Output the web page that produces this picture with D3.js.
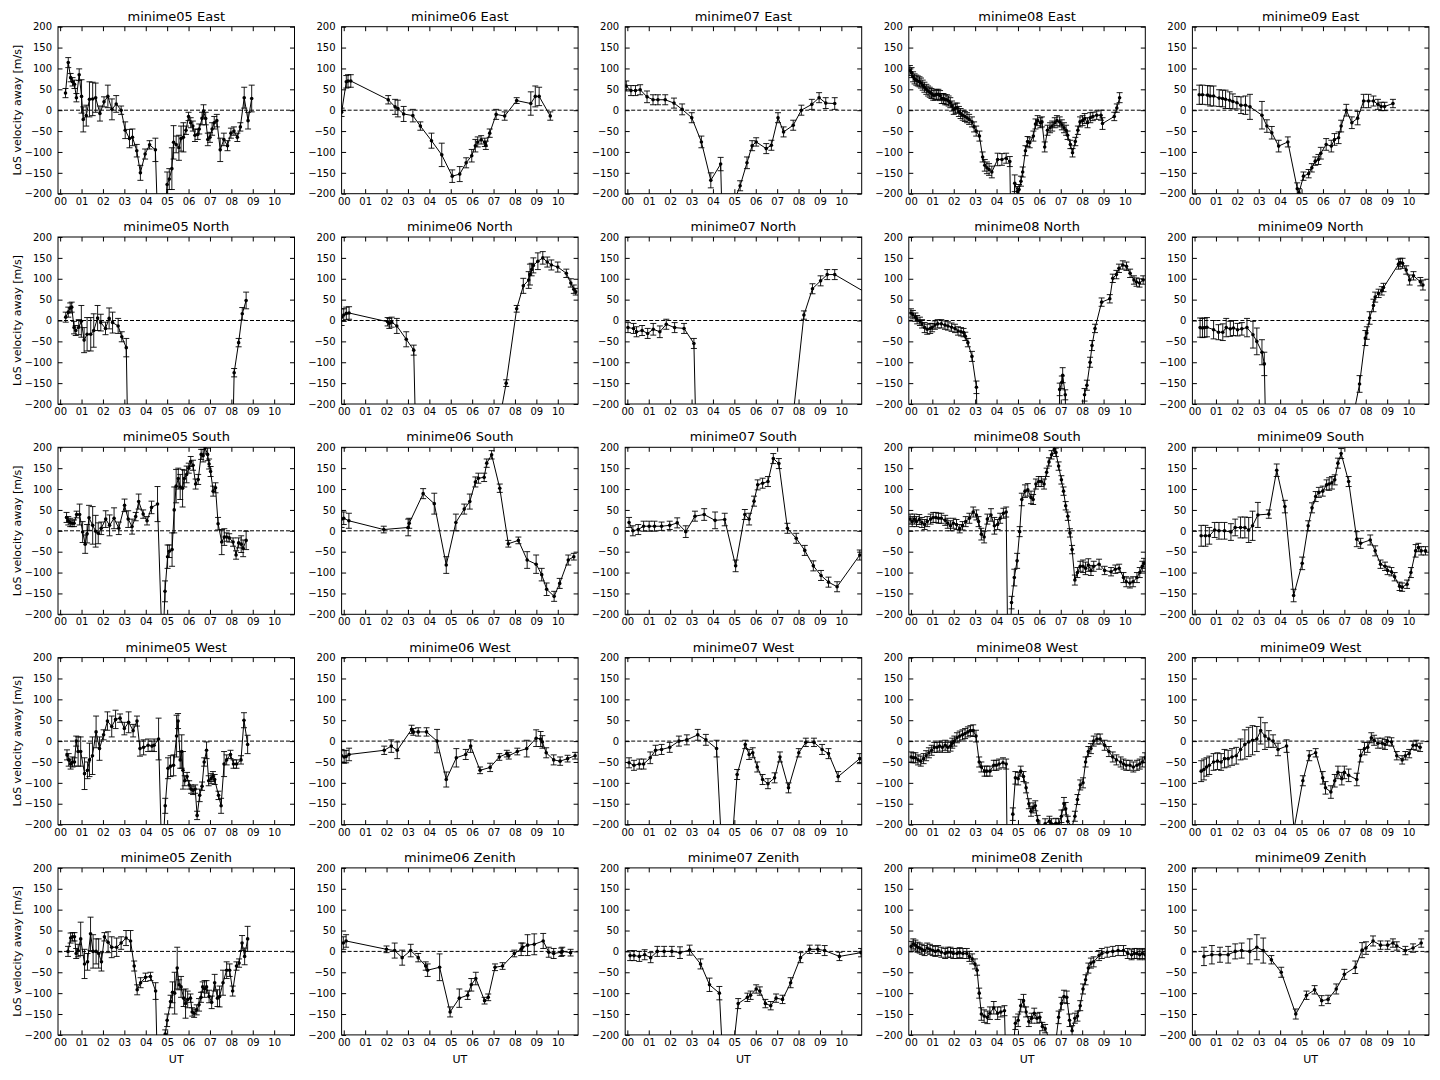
<!DOCTYPE html>
<html><head><meta charset="utf-8">
<script src="https://cdn.jsdelivr.net/npm/d3@7"></script>
<style>
body{margin:0;background:#fff}
svg{display:block}
text{font-family:"DejaVu Sans",sans-serif;fill:#000}
</style>
</head><body>
<svg id="chart" width="1440" height="1080"></svg>
<script>
// ---------- categories / ticks ----------
const sites = ["minime05","minime06","minime07","minime08","minime09"];
const directions = ["East","North","South","West","Zenith"];
const hourTicks = [0,1,2,3,4,5,6,7,8,9,10];
const hourTickLabels = ["00","01","02","03","04","05","06","07","08","09","10"];
const velocityTicks = [-200,-150,-100,-50,0,50,100,150,200];
const hourDomain = [-0.1, 10.95];
const velocityDomain = [-200, 200];
const yAxisLabel = "LoS velocity away [m/s]";
const xAxisLabel = "UT";

// ---------- series: [UT hour, velocity m/s, error m/s] ----------
const minime05_East = [[0.25,41,11],[0.38,114,12],[0.49,78,10],[0.58,68,10],[0.67,62,10],[0.76,30,10],[0.89,85,14],[1.0,33,40],[1.08,-22,30],[1.22,-13,25],[1.37,26,42],[1.52,27,40],[1.66,30,35],[1.86,-8,18],[2.05,20,12],[2.23,33,27],[2.42,2,25],[2.62,15,20],[2.85,0,10],[3.04,-48,20],[3.24,-68,22],[3.38,-65,20],[3.58,-97,15],[3.75,-150,18],[3.97,-105,12],[4.18,-83,10],[4.45,-95,28],[4.65,-420,0],[5.0,-178,30],[5.1,-165,25],[5.22,-140,50],[5.3,-77,40],[5.42,-82,20],[5.55,-90,30],[5.65,-68,30],[5.76,-65,35],[5.88,-48,10],[6.0,-15,10],[6.1,-30,12],[6.2,-38,12],[6.3,-60,15],[6.43,-58,12],[6.5,-45,12],[6.63,-20,15],[6.7,-2,15],[6.8,-20,15],[6.9,-70,15],[7.0,-65,12],[7.1,-45,15],[7.2,-30,15],[7.32,-25,15],[7.48,-95,28],[7.65,-70,15],[7.82,-85,12],[7.98,-55,12],[8.12,-50,10],[8.28,-65,10],[8.42,-40,10],[8.6,30,25],[8.78,-25,20],[8.95,28,32]];
const minime06_East = [[-0.1,-5,10],[0.12,68,15],[0.2,70,15],[0.33,70,15],[2.08,25,10],[2.4,8,18],[2.53,4,20],[2.8,-9,18],[3.23,-13,15],[3.58,-38,10],[4.1,-73,18],[4.58,-107,28],[5.07,-158,15],[5.42,-153,18],[5.72,-126,12],[5.98,-109,15],[6.15,-85,15],[6.26,-76,12],[6.42,-71,10],[6.59,-77,10],[6.64,-84,10],[6.82,-55,10],[7.12,-10,12],[7.52,-14,10],[8.08,23,7],[8.74,16,28],[8.95,33,25],[9.13,33,22],[9.65,-14,10]];
const minime07_East = [[-0.05,58,12],[0.17,47,12],[0.38,47,12],[0.6,49,12],[0.92,32,14],[1.2,25,12],[1.43,25,12],[1.77,25,12],[2.18,17,12],[2.56,2,13],[3.01,-18,12],[3.46,-76,14],[3.9,-168,18],[4.36,-129,16],[4.55,-500,0],[5.05,-210,0],[5.27,-181,12],[5.59,-126,14],[5.83,-85,12],[6.02,-76,10],[6.49,-92,12],[6.73,-84,12],[7.04,-18,12],[7.3,-52,12],[7.75,-36,12],[8.13,0,12],[8.62,14,12],[8.96,30,12],[9.27,17,13],[9.69,16,14]];
const minime08_East = [[-0.05,95,12],[0.03,90,12],[0.1,80,12],[0.17,75,12],[0.25,72,12],[0.32,70,12],[0.4,68,12],[0.47,65,12],[0.55,60,12],[0.63,55,12],[0.72,50,12],[0.8,46,12],[0.88,43,12],[0.96,40,12],[1.04,36,12],[1.12,36,12],[1.2,38,12],[1.28,38,12],[1.36,35,12],[1.44,28,12],[1.52,28,12],[1.6,25,12],[1.68,25,12],[1.76,22,12],[1.84,18,12],[1.92,10,12],[2.0,2,12],[2.08,5,12],[2.16,5,12],[2.24,-3,12],[2.32,-8,12],[2.42,-12,12],[2.52,-15,12],[2.62,-18,12],[2.72,-22,12],[2.85,-28,12],[2.95,-40,12],[3.05,-50,12],[3.2,-62,12],[3.35,-112,12],[3.45,-132,14],[3.55,-138,14],[3.65,-142,14],[3.78,-148,14],[4.05,-118,15],[4.25,-118,14],[4.45,-115,12],[4.62,-123,12],[4.7,-400,0],[4.85,-175,20],[4.98,-195,12],[5.05,-190,12],[5.14,-170,12],[5.22,-148,12],[5.35,-97,12],[5.45,-75,12],[5.55,-78,12],[5.72,-62,12],[5.82,-33,12],[5.92,-25,12],[6.05,-30,12],[6.12,-28,12],[6.25,-88,12],[6.38,-48,12],[6.5,-42,12],[6.6,-38,12],[6.72,-30,12],[6.82,-25,12],[6.95,-28,12],[7.05,-35,12],[7.15,-42,12],[7.25,-48,12],[7.32,-60,10],[7.45,-82,10],[7.55,-102,10],[7.68,-75,10],[7.8,-48,10],[7.9,-28,12],[8.02,-25,12],[8.12,-20,12],[8.25,-30,12],[8.38,-18,12],[8.5,-15,10],[8.68,-12,10],[8.88,-12,12],[8.95,-32,14],[9.5,-15,10],[9.62,5,10],[9.75,30,12]];
const minime09_East = [[0.22,37,23],[0.37,37,23],[0.61,36,23],[0.73,34,24],[0.89,34,24],[1.15,29,20],[1.31,28,20],[1.45,26,22],[1.64,24,20],[1.79,21,18],[1.98,18,15],[2.17,12,20],[2.38,12,22],[2.59,8,30],[3.15,-12,33],[3.38,-38,15],[3.61,-54,15],[3.93,-86,14],[4.36,-76,12],[4.8,-188,14],[4.88,-198,10],[5.09,-158,10],[5.33,-152,10],[5.48,-138,10],[5.64,-122,10],[5.79,-118,12],[5.9,-103,14],[6.15,-82,14],[6.39,-86,14],[6.54,-70,14],[6.73,-66,14],[6.85,-38,14],[7.09,0,14],[7.35,-30,14],[7.62,-19,16],[7.9,22,16],[8.13,22,16],[8.36,22,12],[8.57,14,12],[8.72,9,10],[8.88,9,10],[9.27,16,10]];

const minime05_North = [[0.26,8,12],[0.38,20,12],[0.47,30,12],[0.54,32,12],[0.65,-17,15],[0.73,-24,12],[0.87,-16,18],[0.99,-2,38],[1.12,-47,30],[1.26,-33,40],[1.43,-33,40],[1.57,-24,40],[1.75,6,30],[1.9,-5,20],[2.12,-19,15],[2.29,5,25],[2.45,-5,25],[2.71,-13,18],[2.88,-39,12],[3.09,-65,22],[3.3,-700,0],[7.9,-700,0],[8.13,-125,10],[8.34,-53,10],[8.51,16,15],[8.69,48,20]];
const minime06_North = [[-0.1,8,20],[0.0,13,15],[0.12,17,15],[0.25,18,15],[2.05,-3,10],[2.13,-7,12],[2.24,-4,12],[2.48,-13,18],[2.92,-45,18],[3.27,-71,12],[3.55,-700,0],[7.2,-260,0],[7.59,-150,8],[8.08,28,8],[8.39,83,18],[8.64,97,20],[8.7,110,25],[8.78,122,15],[8.86,132,18],[9.07,142,20],[9.3,150,15],[9.51,140,12],[9.7,133,12],[10.0,128,12],[10.4,113,10],[10.61,90,10],[10.75,75,10],[10.84,69,8]];
const minime07_North = [[0.03,-17,12],[0.29,-19,12],[0.43,-27,12],[0.69,-24,12],[0.95,-31,12],[1.21,-21,14],[1.52,-27,14],[1.82,-9,12],[2.21,-17,12],[2.65,-19,12],[3.11,-55,12],[3.4,-700,0],[7.7,-250,0],[8.25,13,10],[8.65,76,12],[9.03,95,12],[9.34,110,12],[9.69,110,12],[11.2,65,0]];
const minime08_North = [[0.0,18,10],[0.09,14,10],[0.21,8,10],[0.29,2,10],[0.42,-2,10],[0.52,-8,10],[0.64,-17,12],[0.76,-21,12],[0.9,-19,12],[0.99,-17,10],[1.12,-11,10],[1.25,-8,10],[1.42,-8,10],[1.59,-11,10],[1.73,-13,10],[1.9,-16,10],[2.06,-19,10],[2.2,-25,10],[2.34,-27,10],[2.46,-29,10],[2.54,-38,10],[2.66,-53,10],[2.85,-86,12],[3.06,-160,15],[3.2,-600,0],[6.8,-600,0],[6.95,-165,15],[7.05,-148,15],[7.09,-131,18],[7.21,-178,12],[7.35,-600,0],[7.95,-600,0],[8.11,-178,15],[8.22,-155,12],[8.37,-100,12],[8.46,-60,12],[8.6,-19,10],[8.91,44,10],[9.29,52,10],[9.43,101,10],[9.6,110,10],[9.72,125,10],[9.9,133,10],[10.07,130,10],[10.24,113,10],[10.42,97,10],[10.54,92,10],[10.68,90,10],[10.85,97,10]];
const minime09_North = [[0.26,-17,23],[0.37,-18,23],[0.47,-17,23],[0.58,-16,23],[0.89,-22,22],[1.12,-28,18],[1.32,-28,20],[1.48,-17,22],[1.67,-20,18],[1.82,-18,18],[2.01,-22,15],[2.21,-20,15],[2.45,-17,22],[2.73,-34,32],[2.91,-50,32],[3.15,-76,30],[3.26,-104,28],[3.5,-700,0],[7.3,-260,0],[7.71,-152,20],[7.98,-42,18],[8.05,-30,15],[8.18,6,15],[8.36,36,15],[8.44,56,12],[8.6,65,10],[8.75,71,10],[8.83,79,10],[9.53,135,12],[9.61,139,10],[9.72,137,12],[9.89,121,10],[10.05,97,12],[10.23,107,10],[10.55,93,10],[10.67,85,12]];

const minime05_South = [[0.3,32,12],[0.38,24,10],[0.47,20,10],[0.56,18,8],[0.65,18,8],[0.77,39,8],[0.91,39,25],[1.05,-3,25],[1.17,-32,22],[1.26,-7,22],[1.35,31,30],[1.52,13,45],[1.66,-1,38],[1.78,-6,25],[1.92,6,15],[2.13,28,20],[2.31,13,25],[2.52,30,25],[2.74,6,15],[3.01,61,15],[3.18,28,20],[3.36,10,18],[3.53,34,10],[3.67,70,18],[3.88,40,10],[4.06,24,10],[4.27,56,15],[4.55,64,42],[4.78,-300,0],[4.9,-145,25],[5.02,-62,28],[5.1,-49,15],[5.23,-45,40],[5.33,50,55],[5.42,107,40],[5.52,125,25],[5.61,105,30],[5.72,102,45],[5.8,125,20],[5.91,135,20],[6.01,150,12],[6.1,166,12],[6.21,157,12],[6.33,112,12],[6.45,123,12],[6.59,183,12],[6.68,180,15],[6.77,199,15],[6.89,183,15],[6.96,160,12],[7.03,142,12],[7.15,95,12],[7.26,103,12],[7.38,17,15],[7.55,-27,30],[7.67,-15,20],[7.78,-15,10],[7.9,-17,10],[8.08,-27,10],[8.22,-58,10],[8.34,-29,12],[8.46,-32,20],[8.55,-42,20],[8.69,-23,22]];
const minime06_South = [[-0.1,28,20],[0.0,30,15],[0.24,24,18],[1.87,3,8],[3.01,8,20],[3.06,18,12],[3.71,89,12],[4.23,65,25],[4.79,-82,20],[5.24,20,20],[5.63,52,12],[5.89,70,18],[6.15,117,12],[6.29,126,12],[6.56,128,10],[6.68,162,10],[6.91,182,10],[7.29,102,10],[7.69,-31,8],[8.16,-23,8],[8.57,-70,20],[8.99,-80,22],[9.25,-105,15],[9.48,-140,15],[9.83,-157,12],[10.09,-126,12],[10.49,-70,12],[10.75,-62,8]];
const minime07_South = [[0.08,20,12],[0.26,0,12],[0.51,3,12],[0.76,11,12],[1.02,11,12],[1.27,11,12],[1.6,11,10],[1.98,13,10],[2.33,19,12],[2.73,-2,14],[3.16,35,12],[3.59,39,14],[4.1,25,20],[4.55,27,15],[5.06,-84,14],[5.49,39,12],[5.69,28,14],[5.92,71,12],[6.09,110,12],[6.32,114,12],[6.57,118,12],[6.82,173,12],[7.08,161,12],[7.48,6,12],[7.89,-18,12],[8.29,-47,12],[8.69,-84,12],[9.05,-107,12],[9.4,-123,12],[9.8,-134,12],[10.86,-58,12]];
const minime08_South = [[-0.04,28,12],[0.06,22,12],[0.16,28,12],[0.26,22,12],[0.39,27,12],[0.51,20,12],[0.64,15,12],[0.76,22,12],[0.92,28,12],[1.04,32,12],[1.17,32,12],[1.29,30,12],[1.42,30,12],[1.6,25,12],[1.72,18,12],[1.85,12,12],[1.98,18,12],[2.13,15,12],[2.28,5,10],[2.41,12,10],[2.56,22,12],[2.73,30,12],[2.91,45,12],[3.06,38,12],[3.16,22,12],[3.29,-8,14],[3.42,-15,14],[3.57,28,12],[3.74,38,15],[3.9,12,20],[4.05,15,12],[4.17,30,12],[4.32,42,12],[4.45,45,12],[4.55,-400,0],[4.7,-172,15],[4.83,-112,20],[4.96,-72,18],[5.08,-2,12],[5.18,75,15],[5.33,95,15],[5.46,98,15],[5.61,80,15],[5.71,75,12],[5.84,112,12],[5.97,118,12],[6.09,118,12],[6.22,112,12],[6.34,140,10],[6.45,165,10],[6.57,182,10],[6.7,195,10],[6.77,188,10],[6.9,155,10],[7.03,122,10],[7.13,95,10],[7.23,60,10],[7.33,35,10],[7.43,-5,10],[7.53,-45,10],[7.66,-118,12],[7.78,-100,12],[7.91,-85,12],[8.04,-85,15],[8.16,-90,15],[8.29,-82,15],[8.41,-95,12],[8.54,-85,12],[8.79,-80,12],[9.05,-95,10],[9.35,-98,10],[9.55,-92,10],[9.73,-90,10],[9.93,-112,12],[10.06,-122,12],[10.23,-125,12],[10.38,-122,12],[10.56,-112,12],[10.69,-100,12],[10.81,-85,12],[10.89,-78,12]];
const minime09_South = [[0.31,-12,25],[0.51,-12,25],[0.69,-12,20],[0.94,2,18],[1.14,0,20],[1.4,0,20],[1.7,-3,20],[1.9,8,20],[2.15,8,25],[2.35,8,25],[2.53,2,30],[2.71,12,35],[2.96,38,30],[3.47,40,10],[3.84,145,15],[4.22,58,15],[4.63,-155,15],[5.03,-78,15],[5.31,12,12],[5.49,55,12],[5.66,82,12],[5.81,92,12],[5.99,95,12],[6.17,110,12],[6.29,112,15],[6.42,115,15],[6.55,122,12],[6.7,162,12],[6.85,185,12],[7.2,118,12],[7.58,-20,18],[7.76,-30,12],[8.21,-22,12],[8.44,-48,12],[8.69,-80,10],[8.9,-85,10],[9.02,-95,10],[9.2,-98,10],[9.35,-110,10],[9.58,-133,10],[9.7,-135,10],[9.93,-128,10],[10.11,-100,12],[10.33,-48,15],[10.46,-40,10],[10.59,-48,10],[10.79,-48,10]];

const minime05_West = [[0.32,-33,12],[0.4,-45,15],[0.49,-55,12],[0.58,-50,12],[0.67,-50,10],[0.75,0,12],[0.84,-25,35],[0.96,-25,35],[1.14,-78,38],[1.28,-70,20],[1.37,-45,40],[1.51,-35,45],[1.68,22,38],[1.84,-18,28],[2.03,15,12],[2.21,48,22],[2.41,35,25],[2.59,52,22],[2.8,55,10],[3.0,30,15],[3.2,45,25],[3.41,25,15],[3.59,48,12],[3.73,-18,18],[3.9,-15,18],[4.11,-10,15],[4.29,-12,12],[4.39,-10,15],[4.6,5,50],[4.76,-300,0],[4.91,-155,18],[5.04,-65,25],[5.16,-60,25],[5.3,-58,25],[5.44,12,50],[5.51,48,18],[5.61,-45,20],[5.68,-25,40],[5.74,-70,45],[5.82,-95,12],[5.93,-85,10],[6.03,-105,10],[6.12,-115,10],[6.21,-118,10],[6.31,-115,10],[6.4,-178,10],[6.52,-130,15],[6.63,-108,10],[6.73,-50,10],[6.84,-22,20],[6.94,-95,12],[7.05,-90,12],[7.14,-85,12],[7.22,-92,12],[7.4,-130,10],[7.52,-155,18],[7.66,-55,30],[7.78,-45,12],[7.96,-32,10],[8.1,-55,10],[8.24,-55,10],[8.45,-45,10],[8.59,50,18],[8.76,-8,22]];
const minime06_West = [[-0.1,-35,15],[0.02,-38,15],[0.11,-37,15],[0.25,-32,15],[1.89,-22,10],[2.22,-12,15],[2.5,-22,20],[3.17,28,10],[3.25,22,8],[3.48,22,10],[3.87,22,10],[4.36,0,28],[4.79,-92,18],[5.26,-40,22],[5.7,-32,12],[5.93,-12,15],[6.37,-70,8],[6.84,-63,10],[7.27,-38,8],[7.62,-30,8],[7.71,-35,8],[8.11,-25,8],[8.55,-18,20],[8.99,7,20],[9.2,5,18],[9.28,-2,15],[9.46,-28,12],[9.81,-45,12],[10.11,-48,10],[10.46,-42,8],[10.81,-35,8]];
const minime07_West = [[0.08,-52,12],[0.31,-58,12],[0.56,-55,12],[0.76,-55,12],[1.07,-40,14],[1.32,-22,12],[1.6,-20,12],[1.98,-15,12],[2.41,0,12],[2.78,3,12],[3.29,15,13],[3.67,3,13],[4.17,-18,20],[4.6,-450,0],[5.13,-80,12],[5.51,-8,10],[5.69,-32,12],[5.86,-28,12],[6.07,-62,12],[6.32,-92,12],[6.57,-102,12],[6.88,-88,12],[7.13,-38,12],[7.53,-112,12],[8.01,-28,10],[8.34,-3,10],[8.72,-3,10],[9.1,-20,12],[9.4,-30,12],[9.85,-85,12],[10.86,-42,12]];
const minime08_West = [[0.01,-38,12],[0.11,-40,12],[0.21,-40,12],[0.33,-45,12],[0.46,-48,12],[0.59,-42,12],[0.71,-35,12],[0.84,-28,12],[0.97,-22,12],[1.09,-15,12],[1.22,-15,12],[1.34,-12,12],[1.47,-15,12],[1.6,-10,12],[1.72,-15,12],[1.85,-12,12],[1.93,-5,12],[2.03,0,12],[2.15,8,12],[2.28,12,12],[2.41,15,12],[2.53,18,12],[2.66,22,12],[2.78,25,12],[2.91,25,14],[3.04,12,14],[3.19,-50,12],[3.29,-62,12],[3.44,-72,12],[3.54,-72,12],[3.69,-72,12],[3.87,-58,12],[3.99,-58,12],[4.12,-55,12],[4.3,-52,12],[4.45,-55,12],[4.55,-500,0],[4.76,-175,15],[4.88,-88,15],[5.01,-90,15],[5.13,-72,12],[5.26,-85,12],[5.38,-112,12],[5.51,-150,12],[5.61,-168,12],[5.71,-160,12],[5.81,-155,12],[5.92,-190,12],[6.02,-205,0],[6.27,-198,12],[6.47,-192,12],[6.57,-198,12],[6.77,-197,12],[6.9,-198,12],[7.03,-180,15],[7.15,-150,15],[7.23,-162,15],[7.33,-192,12],[7.53,-205,0],[7.66,-180,12],[7.78,-140,12],[7.91,-105,12],[8.04,-100,12],[8.16,-50,12],[8.29,-25,12],[8.41,-18,12],[8.54,0,12],[8.69,5,12],[8.84,5,12],[9.05,-10,12],[9.25,-25,12],[9.43,-38,12],[9.6,-45,12],[9.8,-50,12],[9.93,-55,12],[10.06,-58,12],[10.23,-58,12],[10.39,-62,12],[10.56,-58,12],[10.69,-55,12],[10.81,-50,12],[10.94,-40,12]];
const minime09_West = [[0.31,-72,25],[0.44,-68,25],[0.56,-62,22],[0.69,-58,22],[0.89,-50,20],[1.07,-48,20],[1.24,-50,20],[1.4,-42,22],[1.57,-42,20],[1.75,-38,20],[1.95,-35,20],[2.15,-20,25],[2.35,-8,35],[2.53,-2,35],[2.71,2,35],[2.91,5,30],[3.09,25,32],[3.29,12,32],[3.47,5,20],[3.67,0,15],[3.9,-20,15],[4.3,-12,15],[4.65,-210,0],[5.06,-95,12],[5.36,-35,12],[5.66,-28,10],[5.99,-88,15],[6.12,-112,15],[6.37,-122,15],[6.55,-95,15],[6.7,-75,15],[6.88,-90,15],[7.0,-75,15],[7.2,-82,15],[7.58,-92,15],[7.76,-35,15],[7.94,-18,15],[8.09,-15,12],[8.26,8,12],[8.39,2,12],[8.57,-5,12],[8.77,-5,12],[8.9,-8,12],[9.02,0,10],[9.2,-2,10],[9.45,-35,10],[9.7,-45,10],[9.85,-35,10],[10.03,-30,10],[10.21,-10,10],[10.36,-10,12],[10.54,-15,10]];

const minime05_Zenith = [[0.37,0,12],[0.49,32,12],[0.58,35,10],[0.67,35,10],[0.75,-5,12],[0.84,2,15],[0.96,30,40],[1.14,-30,35],[1.28,-25,20],[1.42,42,40],[1.54,0,40],[1.68,0,30],[1.8,-5,35],[1.93,-25,22],[2.07,35,10],[2.24,22,25],[2.41,10,25],[2.64,10,22],[2.85,20,15],[3.08,32,18],[3.29,25,25],[3.46,-35,12],[3.6,-92,12],[3.76,-75,12],[3.99,-62,10],[4.22,-60,10],[4.46,-95,20],[4.65,-500,0],[4.91,-198,10],[5.0,-165,15],[5.16,-120,15],[5.25,-98,25],[5.35,-100,50],[5.47,-40,50],[5.56,-80,12],[5.65,-85,25],[5.77,-112,20],[5.86,-125,35],[5.96,-115,20],[6.09,-112,10],[6.17,-145,10],[6.26,-148,10],[6.38,-140,12],[6.49,-128,15],[6.58,-110,12],[6.66,-85,12],[6.75,-90,20],[6.84,-85,15],[6.96,-108,15],[7.08,-122,15],[7.22,-75,20],[7.35,-112,20],[7.45,-108,25],[7.61,-75,30],[7.78,-45,20],[7.92,-45,15],[8.06,-95,12],[8.24,-35,10],[8.36,-28,10],[8.5,20,18],[8.62,-12,20],[8.76,30,30]];
const minime06_Zenith = [[-0.02,20,15],[0.11,25,15],[2.0,5,8],[2.38,2,18],[2.73,-15,18],[3.13,2,15],[3.48,-15,10],[3.83,-35,10],[3.92,-45,15],[4.48,-38,32],[4.97,-145,12],[5.4,-112,22],[5.79,-105,10],[5.96,-80,15],[6.17,-65,15],[6.58,-118,8],[6.75,-110,8],[7.07,-38,8],[7.42,-35,8],[7.97,-5,8],[8.29,5,15],[8.36,10,10],[8.59,15,25],[8.9,17,25],[9.32,25,18],[9.58,-2,12],[9.81,-5,12],[10.16,-2,10],[10.21,0,10],[10.6,-3,8]];
const minime07_Zenith = [[0.13,-10,12],[0.31,-10,12],[0.56,-12,12],[0.81,-8,12],[1.09,-15,12],[1.4,0,12],[1.72,0,12],[2.08,0,12],[2.46,-3,14],[2.91,3,12],[3.42,-30,12],[3.84,-80,16],[4.3,-100,16],[4.6,-400,0],[5.18,-125,12],[5.61,-110,10],[5.76,-105,10],[6.02,-90,10],[6.19,-95,10],[6.45,-125,10],[6.7,-130,10],[6.95,-112,10],[7.25,-115,10],[7.63,-75,12],[8.09,-15,12],[8.52,5,10],[8.9,5,10],[9.22,2,12],[9.91,-12,10],[10.92,-3,10]];
const minime08_Zenith = [[0.01,12,12],[0.11,18,12],[0.21,15,12],[0.31,10,12],[0.41,8,12],[0.51,5,12],[0.64,2,12],[0.76,8,12],[0.89,5,12],[1.02,2,12],[1.14,0,12],[1.27,2,12],[1.42,-2,12],[1.6,-5,12],[1.72,-2,12],[1.85,-2,12],[1.98,-5,12],[2.15,-5,12],[2.28,-3,12],[2.43,-5,12],[2.61,-5,12],[2.73,-12,12],[2.86,-18,12],[2.99,-30,12],[3.09,-45,12],[3.19,-100,12],[3.29,-150,15],[3.42,-155,15],[3.57,-158,15],[3.69,-148,15],[3.87,-135,15],[4.05,-148,15],[4.2,-145,12],[4.37,-142,12],[4.5,-400,0],[4.88,-172,15],[5.01,-165,15],[5.13,-130,15],[5.26,-118,15],[5.38,-145,12],[5.51,-168,12],[5.64,-160,12],[5.76,-148,12],[5.89,-160,12],[6.02,-158,12],[6.14,-180,10],[6.27,-185,10],[6.4,-202,0],[6.6,-260,0],[6.8,-203,0],[6.9,-158,15],[7.03,-125,15],[7.15,-108,15],[7.28,-110,15],[7.41,-165,15],[7.53,-190,12],[7.66,-160,12],[7.78,-155,12],[7.91,-130,12],[8.04,-90,12],[8.16,-68,12],[8.29,-40,12],[8.41,-28,12],[8.54,-25,12],[8.79,-10,12],[8.92,-5,12],[9.17,-2,12],[9.43,0,12],[9.68,2,12],[9.93,2,12],[10.13,-5,12],[10.31,-8,12],[10.44,-5,12],[10.56,-5,12],[10.69,-8,12],[10.81,-5,12],[10.94,-8,12]];
const minime09_Zenith = [[0.44,-12,22],[0.81,-8,22],[1.19,-8,18],[1.57,-8,20],[1.9,0,18],[2.2,2,18],[2.58,0,30],[2.91,10,30],[3.21,2,30],[3.59,-20,10],[4.05,-50,12],[4.73,-150,12],[5.23,-105,10],[5.61,-92,10],[5.94,-118,12],[6.24,-115,10],[6.62,-90,12],[7.0,-55,12],[7.51,-38,15],[7.83,3,18],[8.01,8,15],[8.34,25,12],[8.69,15,10],[9.02,15,10],[9.27,20,10],[9.45,13,10],[9.85,2,10],[10.21,8,10],[10.59,20,10]];

// lookup table built from the named arrays
const panelSeries = {
  minime05:{East:minime05_East,North:minime05_North,South:minime05_South,West:minime05_West,Zenith:minime05_Zenith},
  minime06:{East:minime06_East,North:minime06_North,South:minime06_South,West:minime06_West,Zenith:minime06_Zenith},
  minime07:{East:minime07_East,North:minime07_North,South:minime07_South,West:minime07_West,Zenith:minime07_Zenith},
  minime08:{East:minime08_East,North:minime08_North,South:minime08_South,West:minime08_West,Zenith:minime08_Zenith},
  minime09:{East:minime09_East,North:minime09_North,South:minime09_South,West:minime09_West,Zenith:minime09_Zenith}
};

// ---------- layout ----------
const W = 236.5, H = 167;
const colX = d3.scaleLinear().domain([0,4]).range([58, 58 + 4*283.6]);
const rowY = d3.scaleLinear().domain([0,4]).range([26.7, 26.7 + 4*210.3]);

const x = d3.scaleLinear().domain(hourDomain).range([0, W]);
const y = d3.scaleLinear().domain(velocityDomain).range([H, 0]);
const lineGen = d3.line().x(d => x(d[0])).y(d => y(d[1]));

const svg = d3.select("#chart");

directions.forEach((dir, i) => {
  sites.forEach((site, j) => {
    const data = panelSeries[site][dir];
    const g = svg.append("g").attr("transform", `translate(${colX(j)},${rowY(i)})`);
    const clipId = `clip-${i}-${j}`;
    g.append("clipPath").attr("id", clipId)
      .append("rect").attr("width", W).attr("height", H);

    const plot = g.append("g").attr("clip-path", `url(#${clipId})`);

    // zero reference line
    plot.append("line")
      .attr("x1", 0).attr("x2", W).attr("y1", y(0)).attr("y2", y(0))
      .attr("stroke", "#000").attr("stroke-width", 1).attr("stroke-dasharray", "4,2");

    // error bars
    const eb = plot.append("g").attr("stroke", "#000").attr("stroke-width", 0.9);
    const withErr = data.filter(d => d[2] > 0);
    eb.selectAll("line.v").data(withErr).join("line").attr("class", "v")
      .attr("x1", d => x(d[0])).attr("x2", d => x(d[0]))
      .attr("y1", d => y(d[1] - d[2])).attr("y2", d => y(d[1] + d[2]));
    eb.selectAll("line.t").data(withErr).join("line").attr("class", "t")
      .attr("x1", d => x(d[0]) - 3).attr("x2", d => x(d[0]) + 3)
      .attr("y1", d => y(d[1] + d[2])).attr("y2", d => y(d[1] + d[2]));
    eb.selectAll("line.b").data(withErr).join("line").attr("class", "b")
      .attr("x1", d => x(d[0]) - 3).attr("x2", d => x(d[0]) + 3)
      .attr("y1", d => y(d[1] - d[2])).attr("y2", d => y(d[1] - d[2]));

    // data line
    plot.append("path").datum(data).attr("d", lineGen)
      .attr("fill", "none").attr("stroke", "#000").attr("stroke-width", 1);

    // markers
    plot.selectAll("circle").data(data.filter(d => d[2] > 0)).join("circle")
      .attr("cx", d => x(d[0])).attr("cy", d => y(d[1])).attr("r", 1.8).attr("fill", "#000");

    // axes (ticks inward on all four sides)
    const fmtX = (d) => hourTickLabels[hourTicks.indexOf(d)];
    const fmtY = (d) => d < 0 ? "\u2212" + Math.abs(d) : String(d);
    const styleAxis = (sel) => {
      sel.select(".domain").remove();
      sel.selectAll("line").attr("stroke", "#000");
      sel.selectAll("text").attr("font-size", "10px").attr("font-family", "DejaVu Sans, sans-serif").attr("fill", "#000");
    };
    g.append("g").attr("transform", `translate(0,${H})`)
      .call(d3.axisBottom(x).tickValues(hourTicks).tickFormat(fmtX).tickSizeInner(-4.5).tickSizeOuter(0).tickPadding(4))
      .call(styleAxis);
    g.append("g")
      .call(d3.axisTop(x).tickValues(hourTicks).tickFormat("").tickSizeInner(-4.5).tickSizeOuter(0))
      .call(styleAxis);
    g.append("g")
      .call(d3.axisLeft(y).tickValues(velocityTicks).tickFormat(fmtY).tickSizeInner(-4.5).tickSizeOuter(0).tickPadding(6))
      .call(styleAxis);
    g.append("g").attr("transform", `translate(${W},0)`)
      .call(d3.axisRight(y).tickValues(velocityTicks).tickFormat("").tickSizeInner(-4.5).tickSizeOuter(0))
      .call(styleAxis);

    // frame
    g.append("rect").attr("width", W).attr("height", H)
      .attr("fill", "none").attr("stroke", "#000").attr("stroke-width", 1);

    // title
    g.append("text").attr("x", W / 2).attr("y", -6)
      .attr("text-anchor", "middle").attr("font-size", "13px")
      .text(`${site} ${dir}`);

    if (j === 0) {
      g.append("text")
        .attr("transform", `translate(${-37},${H / 2}) rotate(-90)`)
        .attr("text-anchor", "middle").attr("font-size", "11px")
        .text(yAxisLabel);
    }
    if (i === directions.length - 1) {
      g.append("text").attr("x", W / 2).attr("y", H + 28)
        .attr("text-anchor", "middle").attr("font-size", "11px")
        .text(xAxisLabel);
    }
  });
});
</script>
</body></html>
